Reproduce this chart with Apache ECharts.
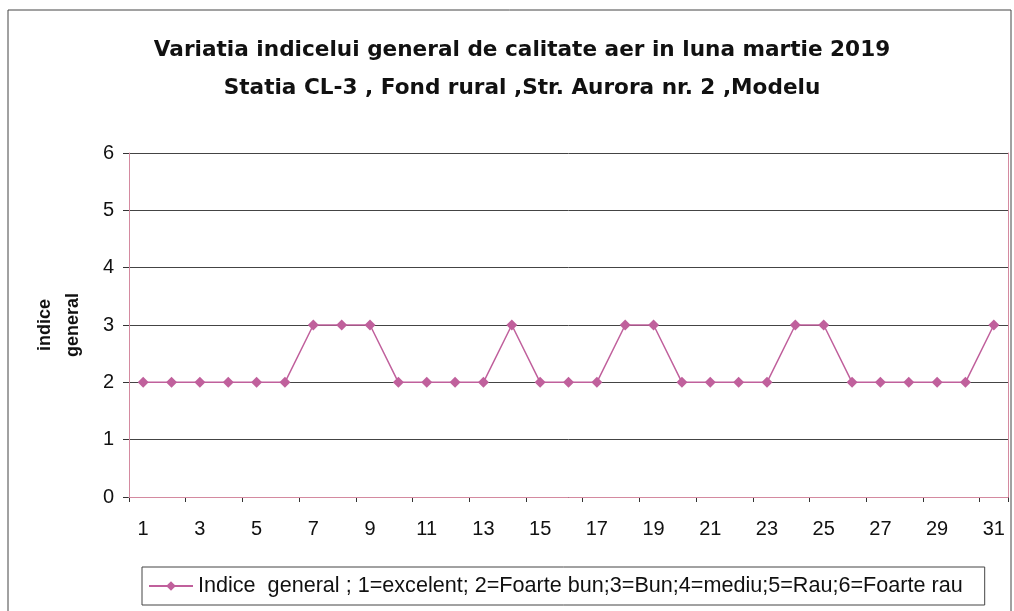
<!DOCTYPE html>
<html lang="ro">
<head>
<meta charset="UTF-8">
<title>Indice general CL-3 martie 2019</title>
<style>
  html, body { margin: 0; padding: 0; background: #fff; }
  #main { width: 1014px; height: 611px; }
</style>
</head>
<body>
<div id="main"></div>
<script src="https://cdn.jsdelivr.net/npm/echarts@6/dist/echarts.min.js"></script>
<script>
var zile = ['1','2','3','4','5','6','7','8','9','10','11','12','13','14','15','16','17','18','19','20','21','22','23','24','25','26','27','28','29','30','31'];
var indice = [2,2,2,2,2,2,3,3,3,2,2,2,2,3,2,2,2,3,3,2,2,2,2,3,3,2,2,2,2,2,3];
var numeSerie = 'Indice  general ; 1=excelent; 2=Foarte bun;3=Bun;4=mediu;5=Rau;6=Foarte rau';
var roz = '#d48aa0';

var chart = echarts.init(document.getElementById('main'));
chart.setOption({
    animation: false,
    backgroundColor: '#fff',
    textStyle: { fontFamily: 'Liberation Sans, Arial, sans-serif' },
    title: {
        text: 'Variatia indicelui general de calitate aer in luna martie 2019\nStatia CL-3 , Fond rural ,Str. Aurora nr. 2 ,Modelu',
        left: 517,
        textAlign: 'center',
        top: 26,
        textStyle: { fontSize: 21.6, fontWeight: 'bold', color: '#111', lineHeight: 38, fontFamily: 'DejaVu Sans' }
    },
    graphic: [{
        type: 'rect',
        shape: { x: 8, y: 10, width: 1003, height: 605 },
        style: { fill: 'none', stroke: '#444', lineWidth: 1 },
        silent: true
    }],
    legend: {
        left: 142,
        top: 567,
        padding: [8, 22, 8, 6],
        itemWidth: 44,
        itemHeight: 12,
        itemGap: 10,
        borderColor: '#444',
        borderWidth: 1,
        textStyle: { fontSize: 21.6, color: '#111' },
        data: [numeSerie]
    },
    grid: { left: 129, right: 6, top: 153, bottom: 114 },
    xAxis: [{
        type: 'category',
        data: zile,
        boundaryGap: true,
        axisLine: { lineStyle: { color: '#333' } },
        axisTick: { show: true, length: 5, lineStyle: { color: '#333' } },
        axisLabel: { interval: 1, fontSize: 20, color: '#111', margin: 22 }
    }, {
        // chenarul de sus al zonei de grafic
        type: 'category',
        data: zile,
        position: 'top',
        z: 4,
        axisLine: { lineStyle: { color: roz } },
        axisTick: { show: false },
        axisLabel: { show: false }
    }],
    yAxis: [{
        type: 'value',
        min: 0, max: 6, interval: 1,
        name: 'indice\ngeneral',
        nameLocation: 'middle',
        nameRotate: 90,
        nameGap: 42,
        nameTextStyle: { fontSize: 18, fontWeight: 'bold', color: '#111', lineHeight: 28 },
        axisLine: { show: true, lineStyle: { color: roz } },
        axisTick: { show: true, length: 6, lineStyle: { color: '#333' } },
        axisLabel: { fontSize: 20, color: '#111', margin: 15 },
        splitLine: { lineStyle: { color: '#444' } }
    }, {
        // chenarul din dreapta
        type: 'value',
        min: 0, max: 6, interval: 1,
        position: 'right',
        z: 4,
        axisLine: { show: true, lineStyle: { color: roz } },
        axisTick: { show: false },
        axisLabel: { show: false },
        splitLine: { show: false }
    }],
    series: [{
        name: numeSerie,
        type: 'line',
        data: indice,
        symbol: 'diamond',
        symbolSize: 11,
        color: '#c0609c',
        lineStyle: { color: '#c0609c', width: 1.5 },
        itemStyle: { color: '#c0609c' }
    }]
});
</script>
</body>
</html>
